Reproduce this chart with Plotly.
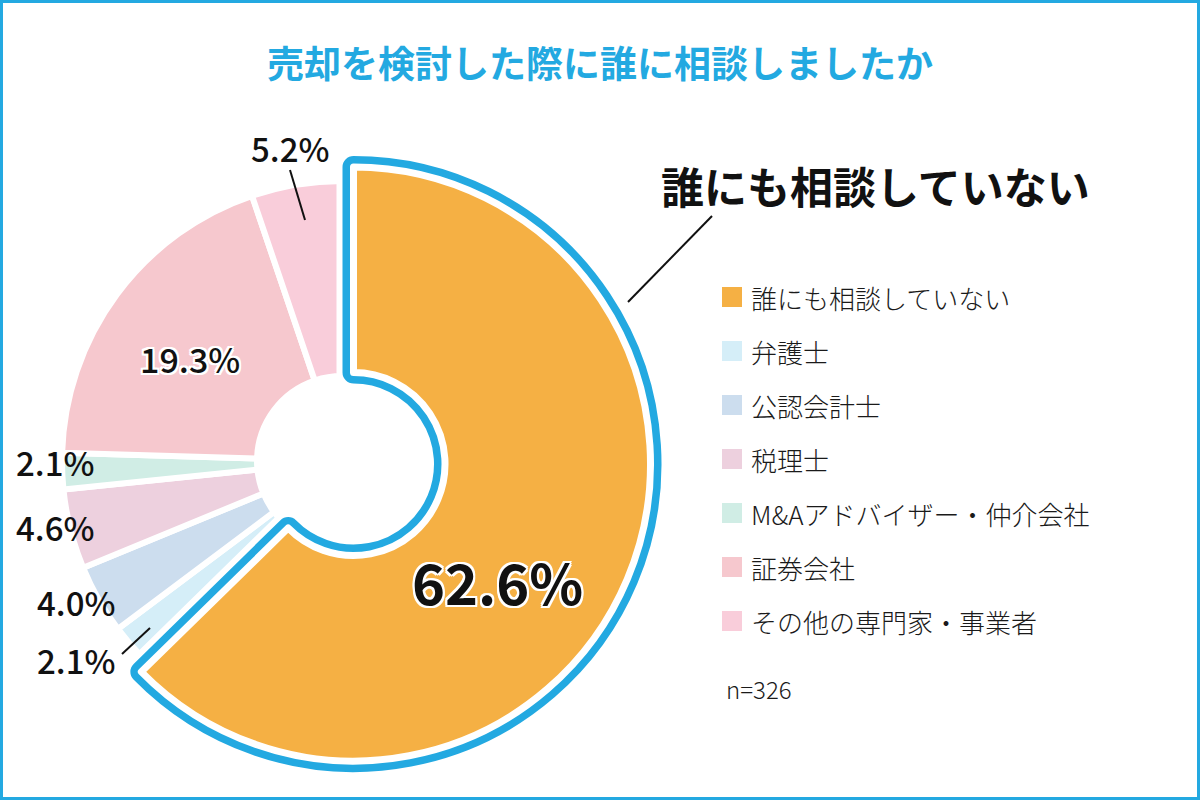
import plotly.graph_objects as go

# ---------------- data ----------------
title_text = "売却を検討した際に誰に相談しましたか"
categories = ["誰にも相談していない", "弁護士", "公認会計士", "税理士",
              "M&Aアドバイザー・仲介会社", "証券会社", "その他の専門家・事業者"]
values = [62.6, 2.1, 4.0, 4.6, 2.1, 19.3, 5.2]
n_total = 326

# ---------------- styles ----------------
colors = ["#F5B044", "#D5EEF8", "#CCDDEE", "#EDD0DE", "#D0EDE5", "#F6C8CE", "#F9CDDA"]
ACCENT = "#23A9E1"
FONT = "Noto Sans CJK JP"
W, H = 1200, 800
CLEAR = "rgba(0,0,0,0)"


def px(x):
    return x / W


def py(y):
    return 1 - y / H


def domain(cx, cy, r):
    return dict(x=[px(cx - r), px(cx + r)], y=[py(cy + r), py(cy - r)])


fig = go.Figure()
common = dict(labels=categories, values=values, sort=False, direction="clockwise",
              rotation=0, textinfo="none", hoverinfo="skip", showlegend=False)

# main pie (all slices, white separators)
fig.add_trace(go.Pie(**common, domain=domain(342, 461, 280), hole=85 / 280,
                     marker=dict(colors=colors, line=dict(color="white", width=6))))

# highlighted slice: white gap, blue outline, white inner line, orange fill
R_O = 297
D_O = domain(353.5, 464, R_O)
HOLE_O = 91.5 / R_O
n = len(values)
only_first = lambda a, b: [a] + [b] * (n - 1)
for fill, line_col, lw in [("white", "white", 34), (ACCENT, ACCENT, 22), (colors[0], "white", 7)]:
    fig.add_trace(go.Pie(**common, domain=D_O, hole=HOLE_O,
                         marker=dict(colors=only_first(fill, CLEAR),
                                     line=dict(color=only_first(line_col, CLEAR),
                                               width=only_first(lw, 0)))))

# ---------------- labels ----------------
outline = ("2px 2px 0 #fff, -2px -2px 0 #fff, 2px -2px 0 #fff, -2px 2px 0 #fff, "
           "0 2px 0 #fff, 2px 0 0 #fff, 0 -2px 0 #fff, -2px 0 0 #fff")
label_pos = [(497, 580), (76, 660), (76, 602), (55, 527), (55, 462), (190, 358), (290, 148)]
label_size = [56, 33, 33, 33, 33, 34, 33]
label_shadow = [outline, None, None, None, None, outline, None]
annotations = []
for v, (x, y), s, sh in zip(values, label_pos, label_size, label_shadow):
    f = dict(family=FONT, size=s, color="#111111", weight=700 if s > 40 else 500)
    if sh:
        f["shadow"] = sh
    annotations.append(dict(x=px(x), y=py(y), xref="paper", yref="paper", text=f"{v}%",
                            showarrow=False, xanchor="center", yanchor="middle", font=f))

# title
annotations.append(dict(x=0.5, y=py(62), xref="paper", yref="paper", text=title_text,
                        showarrow=False, xanchor="center", yanchor="middle",
                        font=dict(family=FONT, size=37, color=ACCENT, weight=700)))
# call-out label for the highlighted slice
annotations.append(dict(x=px(875), y=py(185), xref="paper", yref="paper", text=categories[0],
                        showarrow=False, xanchor="center", yanchor="middle",
                        font=dict(family=FONT, size=43, color="#111111", weight=700)))

shapes = []
# custom legend
for i, (cat, col) in enumerate(zip(categories, colors)):
    yc = 297 + 54 * i
    shapes.append(dict(type="rect", xref="paper", yref="paper", x0=px(722), x1=px(742),
                       y0=py(yc + 10), y1=py(yc - 10), fillcolor=col, line=dict(width=0)))
    annotations.append(dict(x=px(749), y=py(yc), xref="paper", yref="paper", text=cat,
                            showarrow=False, xanchor="left", yanchor="middle",
                            font=dict(family=FONT, size=26, color="#1a1a1a", weight=300)))
annotations.append(dict(x=px(724), y=py(688), xref="paper", yref="paper", text=f"n={n_total}",
                        showarrow=False, xanchor="left", yanchor="middle",
                        font=dict(family=FONT, size=24, color="#1a1a1a", weight=300)))

# leader lines
for (x0, y0, x1, y1) in [(290, 170, 305, 220), (122, 654, 150, 628), (628, 302, 712, 216)]:
    shapes.append(dict(type="line", xref="paper", yref="paper", x0=px(x0), y0=py(y0),
                       x1=px(x1), y1=py(y1), line=dict(color="#111111", width=2)))

# outer frame
shapes.append(dict(type="rect", xref="paper", yref="paper", x0=0, x1=1, y0=0, y1=1,
                   line=dict(color=ACCENT, width=6), fillcolor=CLEAR))

fig.update_layout(width=W, height=H, margin=dict(l=0, r=0, t=0, b=0),
                  paper_bgcolor="white", plot_bgcolor="white",
                  annotations=annotations, shapes=shapes, showlegend=False)

fig.write_html("out.html")
